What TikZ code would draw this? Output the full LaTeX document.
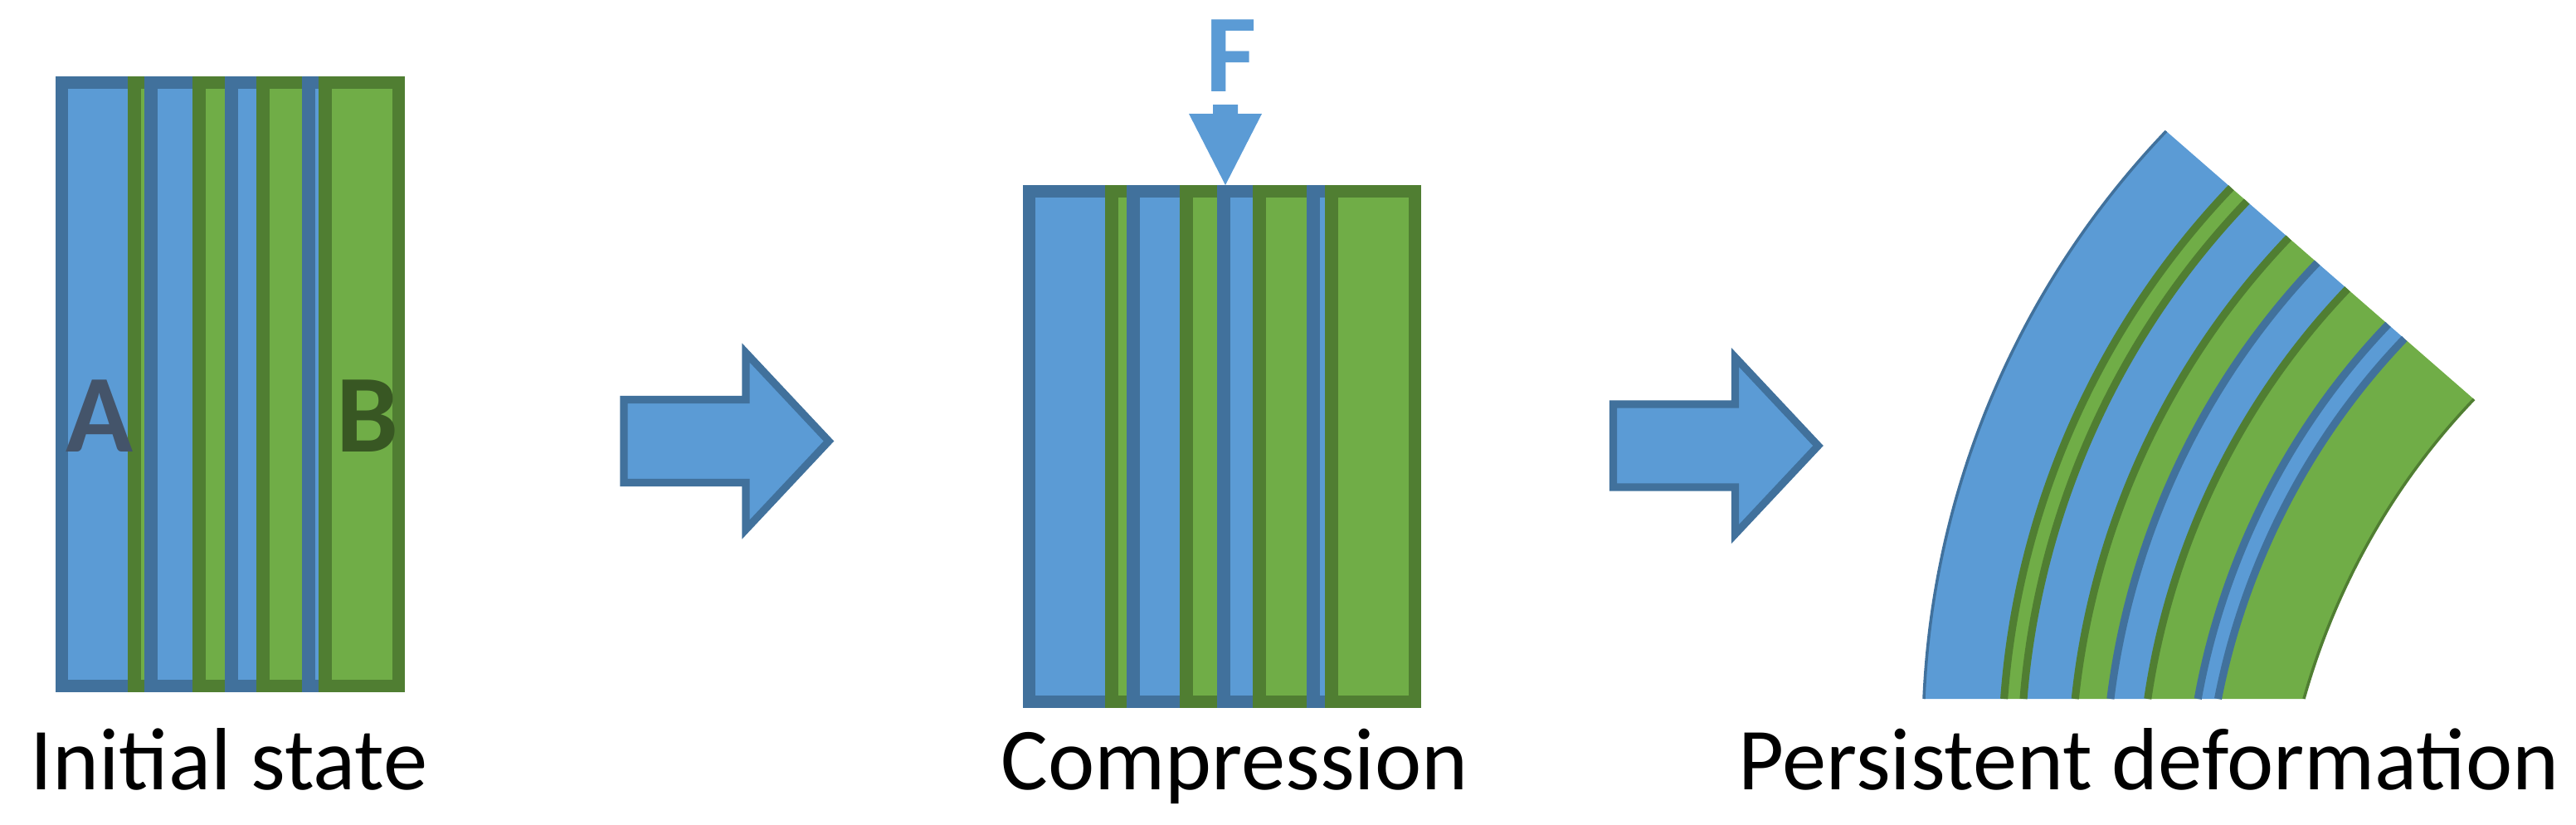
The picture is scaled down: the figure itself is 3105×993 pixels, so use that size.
\documentclass[tikz,border=0pt]{standalone}
\usepackage{fontspec}
\setmainfont{Carlito}
\usetikzlibrary{calc}
\usetikzlibrary{positioning}
\definecolor{bluefill}{HTML}{5B9BD5}
\definecolor{blueline}{HTML}{41719C}
\definecolor{greenfill}{HTML}{70AD47}
\definecolor{greenline}{HTML}{507E32}
\definecolor{slate}{HTML}{44546A}
\definecolor{darkgreen}{HTML}{385723}

\begin{document}
\begin{tikzpicture}[x=0.01cm,y=-0.01cm,
  bluebar/.style={fill=bluefill,draw=blueline,line width=4.3pt},
  greenbar/.style={fill=greenfill,draw=greenline,line width=4.3pt},
  fatarrow/.style={fill=bluefill,draw=blueline,line width=2.6pt,line join=miter},
  caption/.style={anchor=base west,inner sep=0pt,font=\fontsize{30.3}{36}\selectfont},
  letter/.style={anchor=base,inner sep=0pt,font=\fontsize{38}{44}\selectfont\bfseries}]
\useasboundingbox (0,0) rectangle (3105,993);

% initial state
\foreach \xa/\xb/\s in {74.5/162/bluebar,162/182/greenbar,182/240/bluebar,240/279/greenbar,
                        279/317/bluebar,317/372/greenbar,372/392/bluebar,392/480.5/greenbar}
  \draw[\s] (\xa,99.5) rectangle (\xb,826.5);
\node[letter,text=slate] (a) at (120,544) {A};
\node[letter,text=darkgreen] (b) at (443,544) {B};
\node[caption] (t1) at (36,951) {Initial state};

% first step
\coordinate (arr1) at (752,531.5);
\draw[fatarrow] (arr1) ++(0,-50) -- ++(147,0) -- ++(0,-56.5) -- ++(100,106.5)
  -- ++(-100,106.5) -- ++(0,-56.5) -- ++(-147,0) -- cycle;

% compression
\foreach \xa/\xb/\s in {1240.5/1340/bluebar,1340/1366/greenbar,1366/1430/bluebar,1430/1475/greenbar,
                        1475/1518/bluebar,1518/1583/greenbar,1583/1605/bluebar,1605/1705.5/greenbar}
  \draw[\s] (\xa,230.5) rectangle (\xb,845.5);
\node[letter,text=bluefill] (f) at (1484,110) {F};
\fill[bluefill] (1462,126) -- (1492,126) -- (1492,137) -- (1521,137) -- (1477,223)
  -- (1433,137) -- (1462,137) -- cycle;
\node[caption] (t2) at (1206,951) {Compression};

% second step
\coordinate (arr2) at (1944.5,537);
\draw[fatarrow] (arr2) ++(0,-50) -- ++(147,0) -- ++(0,-56.5) -- ++(100,106.5)
  -- ++(-100,106.5) -- ++(0,-56.5) -- ++(-147,0) -- cycle;

% bent layers
\coordinate (o0) at (2611,158);
\coordinate (o1) at (2434,343);
\coordinate (o2) at (2330,586);
\coordinate (o3) at (2319,842);
\coordinate (i0) at (2982,481);
\coordinate (i1) at (2885,582);
\coordinate (i2) at (2815,707);
\coordinate (i3) at (2777,842);
\foreach \sa/\sb/\c in {0/.211/bluefill,.211/.262/greenfill,.262/.398/bluefill,.398/.491/greenfill,
                        .491/.589/bluefill,.589/.721/greenfill,.721/.774/bluefill,.774/1/greenfill}
  \fill[\c] ($(o0)!\sa!(i0)$) .. controls ($(o1)!\sa!(i1)$) and ($(o2)!\sa!(i2)$) .. ($(o3)!\sa!(i3)$)
    -- ($(o3)!\sb!(i3)$) .. controls ($(o2)!\sb!(i2)$) and ($(o1)!\sb!(i1)$) .. ($(o0)!\sb!(i0)$) -- cycle;
\foreach \s/\c/\w in {0/blueline/1pt,.211/greenline/2.6pt,.262/greenline/2.6pt,.398/greenline/2.6pt,
                      .491/blueline/2.6pt,.589/greenline/2.6pt,.721/blueline/2.6pt,.774/blueline/2.6pt,1/greenline/1pt}
  \draw[\c,line width=\w] ($(o0)!\s!(i0)$) .. controls ($(o1)!\s!(i1)$) and ($(o2)!\s!(i2)$) .. ($(o3)!\s!(i3)$);
\node[caption] (t3) at (2095,951) {Persistent deformation};
\end{tikzpicture}
\end{document}
